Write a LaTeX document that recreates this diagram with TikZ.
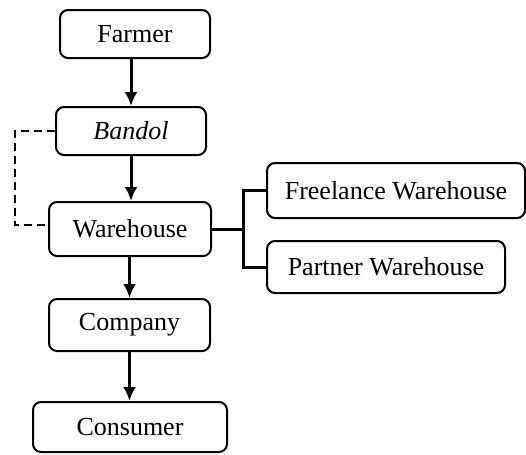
\documentclass[tikz,border=0pt]{standalone}
\usepackage{fontspec}
\setmainfont{Liberation Serif}
\usetikzlibrary{arrows.meta}
\begin{document}
\begin{tikzpicture}[x=0.5pt, y=-0.5pt, line width=1pt,
    box/.style={draw, rounded corners=4pt, inner sep=0pt, font=\fontsize{13}{15}\selectfont},
    flow/.style={line width=1.5pt, -{Latex[length=7pt,width=6.5pt]}},
    branch/.style={line width=1.5pt}]
\useasboundingbox (0,0) rectangle (526,455);
\node[box, minimum width=75pt, minimum height=24pt] (farmer) at (135,34) {Farmer};
\node[box, minimum width=75pt, minimum height=24pt] (bandol) at (131,131) {\itshape Bandol};
\node[box, minimum width=81pt, minimum height=27pt] (warehouse) at (130,229) {Warehouse};
\node[box, minimum width=80.5pt, minimum height=26pt] (company) at (129.5,325) {Company};
\node[box, minimum width=97pt, minimum height=25pt] (consumer) at (130,427) {Consumer};
\node[box, minimum width=129pt, minimum height=27.5pt] (freelance) at (396,190.5) {Freelance Warehouse};
\node[box, minimum width=119pt, minimum height=26pt] (partner) at (386,267) {Partner Warehouse};
\coordinate (fork) at (243,229);

\draw[flow] (bandol.north |- farmer.south) -- (bandol.north);
\draw[flow] (bandol.south) -- (bandol.south |- warehouse.north);
\draw[flow] (company.north |- warehouse.south) -- (company.north);
\draw[flow] (company.south) -- (company.south |- consumer.north);
\draw[line width=1.3pt, dash pattern=on 4pt off 2.5pt] (bandol.west) -- ++(-40,0) |- ([yshift=2pt]warehouse.west);
\draw[branch] (warehouse.east) -- (fork);
\draw[branch] (freelance.west) -| (fork) |- (partner.west);
\end{tikzpicture}
\end{document}
